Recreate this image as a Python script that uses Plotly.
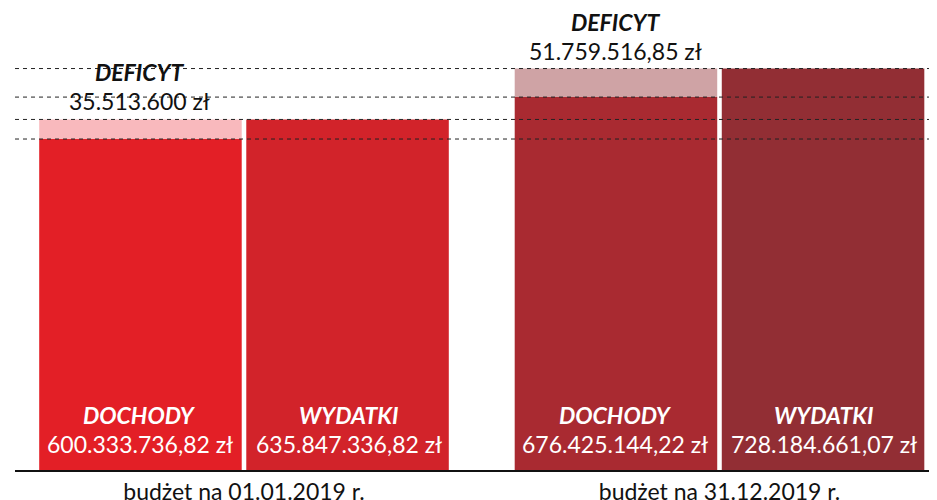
import plotly.graph_objects as go

FONT = "Lato, sans-serif"

kategorie = ["budżet na 01.01.2019 r.", "budżet na 31.12.2019 r."]
dochody = [600333736.82, 676425144.22]
wydatki = [635847336.82, 728184661.07]
deficyt = [35513600.00, 51759516.85]

kolor_dochody = ["#e31f26", "#a92a31"]
kolor_wydatki = ["#d2232a", "#922e34"]
kolor_deficyt = ["#f9b9bd", "#cfa3a5"]


def zl(v):
    # polski format: kropki tysięcy, przecinek dziesiętny
    if round(v, 2) == int(v):
        s = f"{int(v):,}".replace(",", ".")
    else:
        s = f"{v:,.2f}".replace(",", " ").replace(".", ",").replace(" ", ".")
    return s + " zł"


fig = go.Figure()

fig.add_trace(go.Bar(
    x=kategorie, y=dochody, name="Dochody", offsetgroup="d",
    marker=dict(color=kolor_dochody, line=dict(width=0)),
))
fig.add_trace(go.Bar(
    x=kategorie, y=deficyt, base=dochody, name="Deficyt", offsetgroup="d",
    marker=dict(color=kolor_deficyt, line=dict(width=0)),
))
fig.add_trace(go.Bar(
    x=kategorie, y=wydatki, name="Wydatki", offsetgroup="w",
    marker=dict(color=kolor_wydatki, line=dict(width=0)),
))

# ── przerywane linie poziomów ────────────────────────────────────────────────
for poziom in dochody + wydatki:
    fig.add_shape(
        type="line", xref="paper", x0=0, x1=1, yref="y", y0=poziom, y1=poziom,
        line=dict(color="#222222", width=1, dash="4px,4px"), layer="above",
    )

# ── etykiety ────────────────────────────────────────────────────────────────
OFF = 104.5
SIZE = 23
for i, kat in enumerate(kategorie):
    for nazwa, wartosc, dx in (("DOCHODY", dochody[i], -OFF), ("WYDATKI", wydatki[i], OFF)):
        fig.add_annotation(
            x=kat, y=0, xshift=dx, yshift=55, showarrow=False,
            text=f"<b><i>{nazwa}</i></b>",
            font=dict(family=FONT, size=SIZE, color="white"),
        )
        fig.add_annotation(
            x=kat, y=0, xshift=dx, yshift=26, showarrow=False,
            text=zl(wartosc),
            font=dict(family=FONT, size=SIZE, color="white"),
        )
    fig.add_annotation(
        x=kat, y=wydatki[i], xshift=-OFF, yshift=47, showarrow=False,
        text="<b><i>DEFICYT</i></b>",
        font=dict(family=FONT, size=SIZE, color="#111111"),
    )
    fig.add_annotation(
        x=kat, y=wydatki[i], xshift=-OFF, yshift=18, showarrow=False,
        text=zl(deficyt[i]),
        font=dict(family=FONT, size=SIZE, color="#111111"),
    )

# strona ma 8 px marginesu body, stąd 929x492
fig.update_layout(
    width=929, height=492,
    plot_bgcolor="#ffffff", paper_bgcolor="#ffffff",
    font=dict(family=FONT, size=SIZE, color="#111111"),
    barmode="group", bargap=0.129, bargroupgap=0.022,
    showlegend=False,
    margin=dict(l=7, r=2, t=0, b=30),
    xaxis=dict(
        range=[-0.4816, 1.4532], showline=True, linecolor="#111111", linewidth=2,
        ticks="", showgrid=False, zeroline=False, automargin=False,
        tickfont=dict(family=FONT, size=SIZE, color="#111111"),
    ),
    yaxis=dict(
        range=[0, 838e6], visible=False, showgrid=False, zeroline=False,
    ),
)

fig.write_html("out.html")
